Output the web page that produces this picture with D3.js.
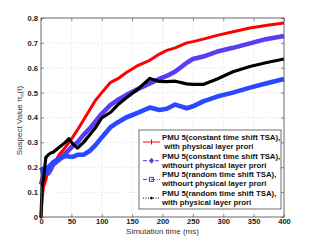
<!DOCTYPE html>
<html>
<head>
<meta charset="utf-8">
<script src="https://cdn.jsdelivr.net/npm/d3@7"></script>
<style>
body{margin:0;background:#fff}
text{font-family:"Liberation Sans",Arial,sans-serif}
</style>
</head>
<body>
<script>
// sample times (ms)
var times = [0,2,4,8,12,16,20,30,40,46,52,60,70,80,90,100,114,126,140,160,179,195,207,221,240,250,267,290,316,344,370,400]
var redVals = [0,0.08,0.12,0.15,0.19,0.2,0.21,0.25,0.28,0.30,0.32,0.35,0.39,0.43,0.47,0.50,0.54,0.555,0.58,0.61,0.63,0.655,0.67,0.68,0.70,0.705,0.715,0.73,0.745,0.76,0.77,0.78]
var purpleVals = [0.13,0.15,0.17,0.18,0.175,0.19,0.21,0.23,0.255,0.27,0.285,0.30,0.33,0.355,0.385,0.415,0.45,0.47,0.49,0.515,0.537,0.555,0.567,0.585,0.62,0.635,0.645,0.665,0.68,0.698,0.715,0.728]
var blueVals = [0.2,0.19,0.17,0.18,0.2,0.21,0.22,0.235,0.245,0.243,0.242,0.25,0.25,0.265,0.29,0.32,0.36,0.38,0.4,0.42,0.44,0.43,0.435,0.452,0.437,0.445,0.465,0.484,0.5,0.52,0.537,0.555]
var blackVals = [0,0.13,0.15,0.24,0.25,0.257,0.26,0.28,0.30,0.315,0.295,0.277,0.30,0.33,0.36,0.398,0.42,0.45,0.478,0.515,0.557,0.545,0.544,0.546,0.535,0.533,0.533,0.555,0.584,0.605,0.62,0.635]

var xTicks = [0,50,100,150,200,250,300,350,400]
var yTicks = [0,0.1,0.2,0.3,0.4,0.5,0.6,0.7,0.8]
var legendLines = [
  ["PMU 5(constant time shift TSA),", " with physical layer prori"],
  ["PMU 5(constant time shift TSA),", "withourt physical layer prori"],
  ["PMU 5(random time shift TSA),", "withourt physical layer prori"],
  ["PMU 5(random time shift TSA),", "with physical layer prori"]
]

var series = [
  {vals: redVals, color: "#ff0000", width: 3, dash: null, marker: "plus"},
  {vals: purpleVals, color: "#5a3cf6", width: 4.6, dash: "4,2", marker: "diamond"},
  {vals: blueVals, color: "#2a48ff", width: 4.6, dash: "4,1.5,1,1.5", marker: "square"},
  {vals: blackVals, color: "#000000", width: 3.2, dash: "1,1.5", marker: "dot"}
]

var screen = {width:314, height:244}
var margin = {top:18, right:30, bottom:27, left:41}
var w = screen.width - margin.left - margin.right
var h = screen.height - margin.top - margin.bottom

var svg = d3.select("body").append("svg")
  .attr("width", screen.width)
  .attr("height", screen.height)

var g = svg.append("g").attr("transform", "translate(" + margin.left + "," + margin.top + ")")

var x = d3.scaleLinear().domain([0,400]).range([0,w])
var y = d3.scaleLinear().domain([0,0.8]).range([h,0])

// grid
g.selectAll("line.gx").data(xTicks.slice(1,-1)).enter().append("line")
  .attr("x1", d => x(d)).attr("x2", d => x(d)).attr("y1", 0).attr("y2", h)
  .attr("stroke", "#c8c8c8").attr("stroke-width", 0.6).attr("stroke-dasharray", "1,2")
g.selectAll("line.gy").data(yTicks.slice(1,-1)).enter().append("line")
  .attr("y1", d => y(d)).attr("y2", d => y(d)).attr("x1", 0).attr("x2", w)
  .attr("stroke", "#c8c8c8").attr("stroke-width", 0.6).attr("stroke-dasharray", "1,2")

// lines
var line = d3.line().x((d,i) => x(times[i])).y(d => y(d))
series.forEach(function(s){
  g.append("path").datum(s.vals)
    .attr("fill", "none")
    .attr("stroke", s.color)
    .attr("stroke-width", s.width)
    .attr("stroke-linejoin", "round")
    .attr("d", line)
})
// thin vertical start segments
g.append("line").attr("x1", x(0)+0.5).attr("x2", x(0)+0.5).attr("y1", y(0)).attr("y2", y(0.12))
  .attr("stroke", "#ff0000").attr("stroke-width", 1)
g.append("circle").attr("cx", x(0)).attr("cy", y(0)).attr("r", 1.5).attr("fill", "#000")

// frame
g.append("rect").attr("width", w).attr("height", h).attr("fill", "none")
  .attr("stroke", "#444").attr("stroke-width", 0.8)

// axes
var xAxis = d3.axisBottom(x).tickValues(xTicks).tickSize(-3).tickPadding(1.5).tickFormat(d3.format("d"))
var yAxis = d3.axisLeft(y).tickValues(yTicks).tickSize(-3).tickPadding(3).tickFormat(d => d === 0 ? "0" : d3.format(".1f")(d))
var gx = g.append("g").attr("transform", "translate(0," + h + ")").call(xAxis)
var gy = g.append("g").call(yAxis)
g.append("g").call(d3.axisTop(x).tickValues(xTicks).tickSize(-3).tickFormat(""))
g.append("g").attr("transform", "translate(" + w + ",0)").call(d3.axisRight(y).tickValues(yTicks).tickSize(-3).tickFormat(""))
g.selectAll(".domain").remove()
g.selectAll(".tick line").attr("stroke", "#444").attr("stroke-width", 0.6)
;[gx, gy].forEach(function(a){
  a.selectAll("text").attr("font-size", 7.6).attr("font-weight", "bold").attr("fill", "#222")
    .style("font-family", "'Liberation Sans',Arial,sans-serif")
})

// axis labels
svg.append("text").attr("x", margin.left + w/2).attr("y", 234).attr("text-anchor", "middle")
  .attr("font-size", 8).attr("fill", "#333").text("Simulation time (ms)")
var yl = svg.append("text").attr("transform", "translate(22," + (margin.top + h/2 + 3) + ") rotate(-90)")
  .attr("text-anchor", "middle").attr("font-size", 8).attr("fill", "#333")
yl.append("tspan").text("Suspect Value \u03c0")
yl.append("tspan").attr("font-size", 5.5).attr("dy", 1.5).text("n")
yl.append("tspan").attr("dy", -1.5).text("(t)")

// legend
var lg = svg.append("g")
lg.append("rect").attr("x", 139).attr("y", 130).attr("width", 142).attr("height", 79)
  .attr("fill", "#fff").attr("stroke", "#333").attr("stroke-width", 0.7)
series.forEach(function(s, i){
  var yy = 142 + i*18.7
  lg.append("line").attr("x1", 143).attr("x2", 160).attr("y1", yy).attr("y2", yy)
    .attr("stroke", s.color).attr("stroke-width", 1).attr("stroke-dasharray", s.dash)
  var cx = 151.5
  if (s.marker === "plus") {
    lg.append("path").attr("d", "M" + cx + "," + (yy-2.5) + "v5").attr("stroke", s.color).attr("stroke-width", 1)
  } else if (s.marker === "diamond") {
    lg.append("path").attr("d", "M" + cx + "," + (yy-2.5) + "l2,2.5l-2,2.5l-2,-2.5z").attr("fill", s.color).attr("stroke", s.color)
  } else if (s.marker === "square") {
    lg.append("rect").attr("x", cx-2).attr("y", yy-2).attr("width", 4).attr("height", 4)
      .attr("fill", "none").attr("stroke", s.color).attr("stroke-width", 1)
  } else {
    lg.append("circle").attr("cx", cx).attr("cy", yy).attr("r", 1.3).attr("fill", s.color)
  }
  legendLines[i].forEach(function(t, j){
    lg.append("text").attr("x", 162).attr("y", 140 + i*18.5 + j*9)
      .attr("font-size", 7.8).attr("font-weight", "bold").attr("fill", "#111")
      .attr("xml:space", "preserve").style("white-space", "pre").text(t)
  })
})
</script>
</body>
</html>
